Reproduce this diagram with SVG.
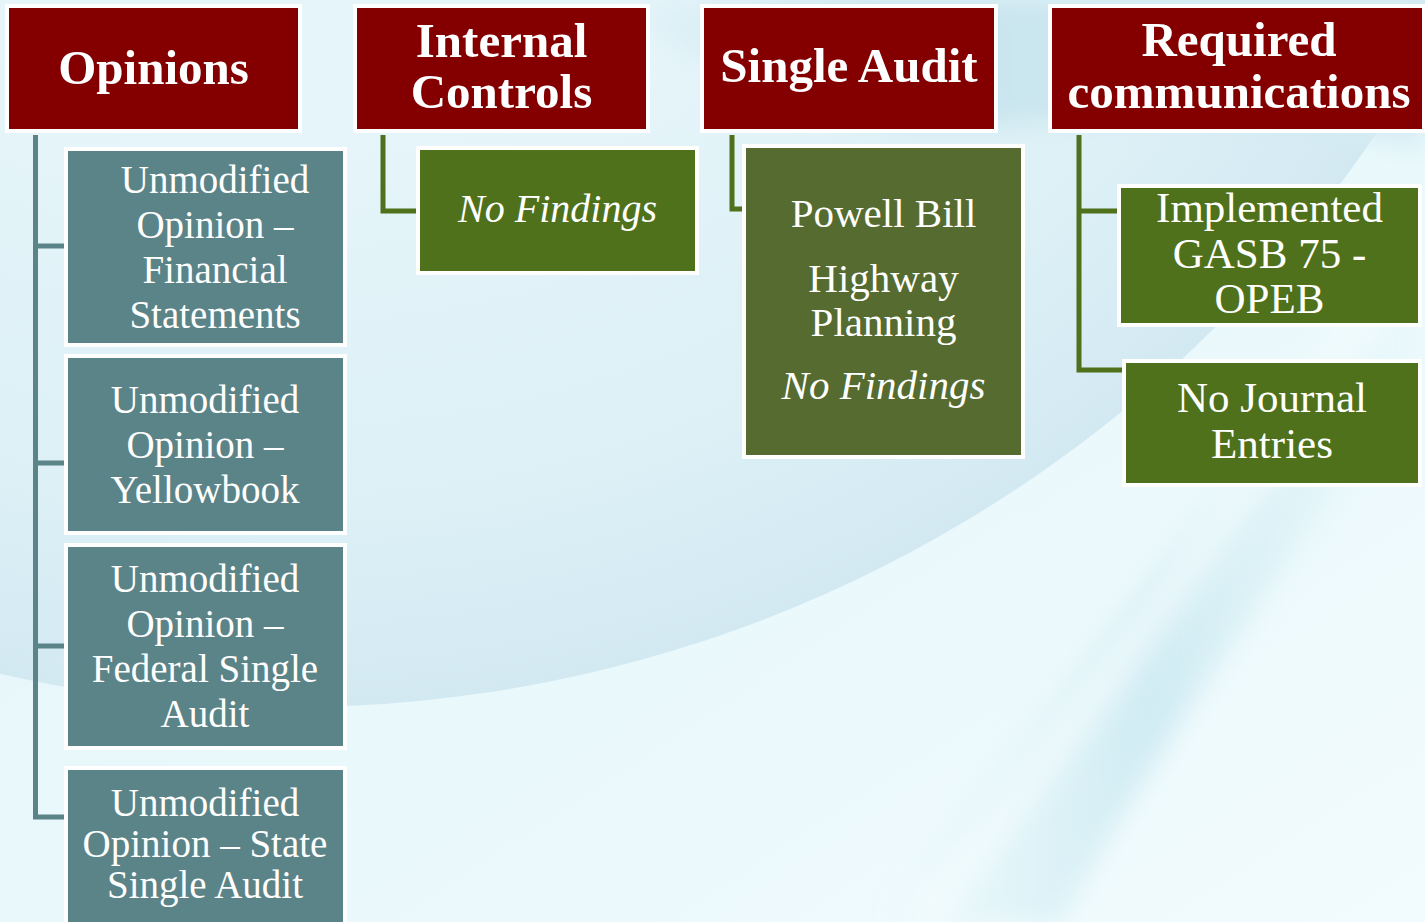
<svg xmlns="http://www.w3.org/2000/svg" width="1425" height="922" viewBox="0 0 1425 922">
  <defs>
    <linearGradient id="bgBase" x1="0" y1="0" x2="1" y2="1">
      <stop offset="0" stop-color="#e4f4f9"/>
      <stop offset="0.5" stop-color="#e8f8fb"/>
      <stop offset="1" stop-color="#f2fbfd"/>
    </linearGradient>
    <radialGradient id="arcFill" gradientUnits="userSpaceOnUse" cx="293" cy="-603" r="1310">
      <stop offset="0.55" stop-color="#e6f5fa"/>
      <stop offset="0.85" stop-color="#dcf0f6"/>
      <stop offset="1" stop-color="#d3e9f2"/>
    </radialGradient>
    <linearGradient id="bandRight" x1="0" y1="0" x2="1" y2="0">
      <stop offset="0" stop-color="#d2eef4" stop-opacity="0"/>
      <stop offset="0.5" stop-color="#cdeaf2" stop-opacity="0.9"/>
      <stop offset="1" stop-color="#d2eef4" stop-opacity="0"/>
    </linearGradient>
    <linearGradient id="topBand" x1="0" y1="0" x2="1" y2="0">
      <stop offset="0" stop-color="#c9e5ee" stop-opacity="0"/>
      <stop offset="0.35" stop-color="#c6e3ed"/>
      <stop offset="1" stop-color="#d6edf4"/>
    </linearGradient>
    <filter id="soft" x="-10%" y="-10%" width="120%" height="120%">
      <feGaussianBlur stdDeviation="12"/>
    </filter>
  </defs>
  <style>
    .hdr { fill: #840000; stroke: #ffffff; stroke-width: 4; }
    .teal { fill: #5b8488; stroke: #ffffff; stroke-width: 4; }
    .grn { fill: #4f711b; stroke: #ffffff; stroke-width: 4; }
    .olive { fill: #556b2f; stroke: #ffffff; stroke-width: 4; }
    .hdrTxt { font-family: "Liberation Serif", "Times New Roman", serif; font-weight: bold; font-size: 49px; fill: #ffffff; text-anchor: middle; }
    .txt { font-family: "Liberation Serif", "Times New Roman", serif; fill: #ffffff; text-anchor: middle; }
    .it { font-style: italic; }
    .lnTeal { fill: none; stroke: #5b8488; stroke-width: 5; }
    .lnGrn { fill: none; stroke: #4f711b; stroke-width: 5; }
  </style>

  <!-- backdrop -->
  <g id="background">
    <rect x="0" y="0" width="1425" height="922" fill="url(#bgBase)"/>
    <circle cx="293" cy="-603" r="1310" fill="url(#arcFill)"/>
    <path d="M600,0 L1425,0 L1425,150 C1300,120 1150,110 1000,125 C850,140 720,80 600,0 Z" fill="url(#topBand)" filter="url(#soft)"/>
    <path d="M880,922 C1050,700 1250,450 1425,250 L1425,380 C1280,560 1150,760 1060,922 Z" fill="url(#bandRight)" filter="url(#soft)"/>
    <path d="M920,922 C1100,690 1260,470 1380,300" fill="none" stroke="#f6fdfe" stroke-width="40" opacity="0.6" filter="url(#soft)"/>
  </g>

  <!-- connectors -->
  <g id="connectors">
    <path class="lnTeal" d="M35.5,135 V817 H66 M35.5,246 H66 M35.5,463 H66 M35.5,646 H66"/>
    <path class="lnGrn" d="M383,135 V211 H418"/>
    <path class="lnGrn" d="M732,135 V209 H744"/>
    <path class="lnGrn" d="M1079,135 V370 H1123 M1079,211 H1119"/>
  </g>

  <!-- column headers -->
  <g id="hdr-opinions">
    <rect class="hdr" x="7" y="6" width="293" height="125"/>
    <text class="hdrTxt" x="153.5" y="84">Opinions</text>
  </g>
  <g id="hdr-internal-controls">
    <rect class="hdr" x="355" y="6" width="293" height="125"/>
    <text class="hdrTxt" x="501.5" y="57">Internal</text>
    <text class="hdrTxt" x="501.5" y="108">Controls</text>
  </g>
  <g id="hdr-single-audit">
    <rect class="hdr" x="702" y="6" width="294" height="125"/>
    <text class="hdrTxt" x="849" y="82">Single Audit</text>
  </g>
  <g id="hdr-required-communications">
    <rect class="hdr" x="1050" y="6" width="374" height="125"/>
    <text class="hdrTxt" x="1239" y="56">Required</text>
    <text class="hdrTxt" x="1239" y="108">communications</text>
  </g>

  <!-- opinions column -->
  <g id="op-financial">
    <rect class="teal" x="66" y="149" width="279" height="196"/>
    <text class="txt" font-size="39" x="215" y="193">Unmodified</text>
    <text class="txt" font-size="39" x="215" y="238">Opinion –</text>
    <text class="txt" font-size="39" x="215" y="283">Financial</text>
    <text class="txt" font-size="39" x="215" y="328">Statements</text>
  </g>
  <g id="op-yellowbook">
    <rect class="teal" x="66" y="356" width="279" height="177"/>
    <text class="txt" font-size="39" x="205" y="413">Unmodified</text>
    <text class="txt" font-size="39" x="205" y="458">Opinion –</text>
    <text class="txt" font-size="39" x="205" y="503">Yellowbook</text>
  </g>
  <g id="op-federal">
    <rect class="teal" x="66" y="545" width="279" height="203"/>
    <text class="txt" font-size="39" x="205" y="592">Unmodified</text>
    <text class="txt" font-size="39" x="205" y="637">Opinion –</text>
    <text class="txt" font-size="39" x="205" y="682">Federal Single</text>
    <text class="txt" font-size="39" x="205" y="727">Audit</text>
  </g>
  <g id="op-state">
    <rect class="teal" x="66" y="768" width="279" height="170"/>
    <text class="txt" font-size="39" x="205" y="816">Unmodified</text>
    <text class="txt" font-size="39" x="205" y="857">Opinion – State</text>
    <text class="txt" font-size="39" x="205" y="898">Single Audit</text>
  </g>

  <!-- internal controls column -->
  <g id="ic-findings">
    <rect class="grn" x="418" y="148" width="279" height="125"/>
    <text class="txt it" font-size="40" x="557.5" y="222">No Findings</text>
  </g>

  <!-- single audit column -->
  <g id="sa-powell-bill">
    <rect class="olive" x="744" y="146" width="279" height="311"/>
    <text class="txt" font-size="41" x="883.5" y="227">Powell Bill</text>
    <text class="txt" font-size="41" x="883.5" y="292">Highway</text>
    <text class="txt" font-size="41" x="883.5" y="336">Planning</text>
    <text class="txt it" font-size="41" x="883.5" y="399">No Findings</text>
  </g>

  <!-- required communications column -->
  <g id="rc-gasb">
    <rect class="grn" x="1119" y="186" width="301" height="139"/>
    <text class="txt" font-size="43" x="1269.5" y="222">Implemented</text>
    <text class="txt" font-size="43" x="1269.5" y="268">GASB 75 -</text>
    <text class="txt" font-size="43" x="1269.5" y="313">OPEB</text>
  </g>
  <g id="rc-journal">
    <rect class="grn" x="1124" y="361" width="296" height="124"/>
    <text class="txt" font-size="43" x="1272" y="412">No Journal</text>
    <text class="txt" font-size="43" x="1272" y="458">Entries</text>
  </g>
</svg>
